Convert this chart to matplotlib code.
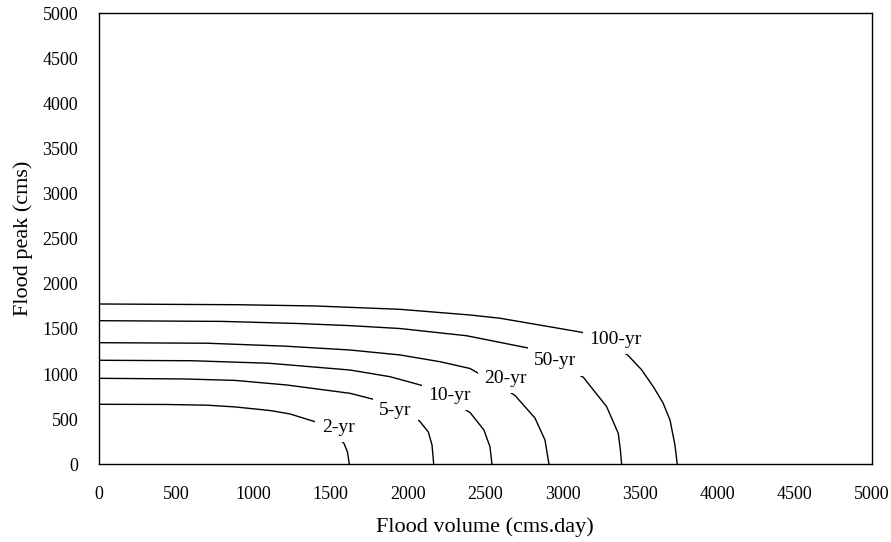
import matplotlib
matplotlib.use("Agg")
import matplotlib.pyplot as plt

# Data (flood volume in cms.day, flood peak in cms)
periods = ["2-yr", "5-yr", "10-yr", "20-yr", "50-yr", "100-yr"]

vol_2 = [0, 440, 700, 880, 1107, 1236, 1409, 1501, 1585, 1608, 1620]
peak_2 = [665, 663, 655, 636, 596, 558, 466, 358, 233, 136, 0]

vol_5 = [0, 544, 880, 1215, 1624, 1775, 1922, 2074, 2131, 2155, 2166]
peak_5 = [953, 946, 930, 879, 787, 721, 602, 480, 358, 214, 0]

vol_10 = [0, 600, 1100, 1624, 1883, 2090, 2245, 2401, 2491, 2530, 2543]
peak_10 = [1153, 1148, 1120, 1045, 971, 874, 735, 574, 380, 195, 0]

vol_20 = [0, 700, 1200, 1624, 1948, 2207, 2401, 2575, 2692, 2821, 2886, 2912]
peak_20 = [1348, 1342, 1310, 1267, 1212, 1137, 1062, 890, 763, 513, 269, 0]

vol_50 = [0, 800, 1300, 1624, 1948, 2379, 2778, 2957, 3134, 3285, 3360, 3374, 3382]
peak_50 = [1592, 1584, 1560, 1537, 1505, 1425, 1289, 1134, 965, 639, 344, 159, 0]

vol_100 = [0, 900, 1400, 1948, 2401, 2595, 2854, 3125, 3274, 3421, 3510, 3587, 3650, 3695, 3727, 3742]
peak_100 = [1777, 1769, 1755, 1718, 1655, 1619, 1543, 1463, 1356, 1212, 1050, 860, 680, 491, 214, 0]

# label anchor positions (data units)
label_x = [1547, 1919, 2271, 2630, 2951, 3342]
label_y = [413, 591, 768, 951, 1145, 1384]

x_ticks = [0, 500, 1000, 1500, 2000, 2500, 3000, 3500, 4000, 4500, 5000]
y_ticks = [0, 500, 1000, 1500, 2000, 2500, 3000, 3500, 4000, 4500, 5000]

plt.rcParams['font.family'] = ['Liberation Serif', 'DejaVu Serif']

fig = plt.figure(figsize=(8.91, 5.42), dpi=100)
ax = fig.add_axes([0.1111, 0.1434, 0.9783 - 0.1111, 0.9755 - 0.1434])

curves = [(vol_2, peak_2), (vol_5, peak_5), (vol_10, peak_10),
          (vol_20, peak_20), (vol_50, peak_50), (vol_100, peak_100)]
for (vx, vy) in curves:
    ax.plot(vx, vy, color='black', linewidth=1.0, solid_capstyle='butt',
            solid_joinstyle='round')

for name, lx, ly in zip(periods, label_x, label_y):
    ax.text(lx, ly, name, fontsize=14, ha='center', va='center', zorder=5,
            bbox=dict(facecolor='white', edgecolor='none', pad=4.5))

ax.set_xlim(0, 5000)
ax.set_ylim(0, 5000)
ax.set_xticks(x_ticks)
ax.set_yticks(y_ticks)
ax.tick_params(axis='both', length=0, labelsize=13)
ax.tick_params(axis='x', pad=16)
ax.tick_params(axis='y', pad=15)
for s in ax.spines.values():
    s.set_linewidth(1.0)
    s.set_color('black')

ax.set_xlabel("Flood volume (cms.day)", fontsize=16, labelpad=10)
ax.set_ylabel("Flood peak (cms)", fontsize=16, labelpad=7)

fig.savefig("out.png", dpi=100)
